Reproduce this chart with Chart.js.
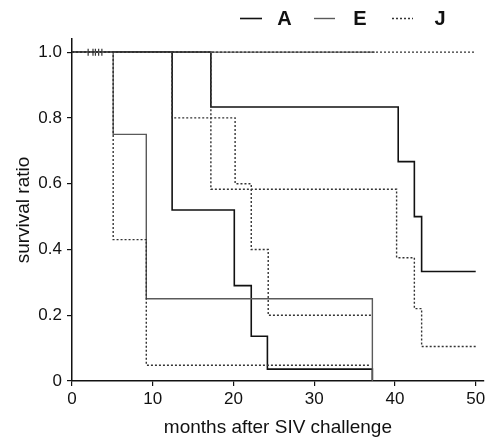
<!DOCTYPE html>
<html>
<head>
<meta charset="utf-8">
<script src="https://cdn.jsdelivr.net/npm/chart.js@4.4.1/dist/chart.umd.min.js"></script>
<style>
  html, body { margin: 0; padding: 0; background: #fff; }
  #wrap { width: 489px; height: 439px; }
</style>
</head>
<body>
<div id="wrap"><canvas id="survChart" width="489" height="439"></canvas></div>
<script>

// DATA (months after challenge, survival ratio)

const groupNames = ["A", "E", "J"];

const aMonths1 = [0, 17.2, 40.4, 42.4, 43.3, 50];
const aSurv1   = [1, 0.833, 0.667, 0.5, 0.333, 0.333];

const aMonths2 = [0, 12.4, 20.1, 22.2, 24.2, 37.2];
const aSurv2   = [1, 0.52, 0.29, 0.136, 0.036, 0];

const eMonths1 = [0, 5.1, 9.2, 37.2];
const eSurv1   = [1, 0.75, 0.25, 0];

const eMonths2 = [0, 37.5];
const eSurv2   = [1, 1];

const jMonths1 = [0, 17.2, 40.2, 42.4, 43.3, 50];
const jSurv1   = [1, 0.583, 0.375, 0.22, 0.105, 0.105];

const jMonths2 = [0, 12.4, 20.2, 22.2, 24.3, 37.1];
const jSurv2   = [1, 0.8, 0.6, 0.4, 0.2, 0.2];

const jMonths3 = [0, 5.1, 9.2, 37];
const jSurv3   = [1, 0.43, 0.048, 0.048];

const jMonths4 = [0, 50];
const jSurv4   = [1, 1];

const censorMonths = [2.0, 2.6, 2.9, 3.3, 3.7];
const censorSurv   = [1, 1, 1, 1, 1];

const xTicks = [0, 10, 20, 30, 40, 50];
const yTicks = [0, 0.2, 0.4, 0.6, 0.8, 1.0];

// STYLES

const styleA = { borderColor: "#111", borderWidth: 1.6, borderDash: [] };
const styleE = { borderColor: "#5a5a5a", borderWidth: 1.4, borderDash: [] };
const styleJ = { borderColor: "#333", borderWidth: 1.4, borderDash: [2, 2] };

function pts(xs, ys){
  return xs.map((x, i) => ({ x: x, y: ys[i] }));
}

function curve(name, xs, ys, style){
  return {
    label: name,
    data: pts(xs, ys),
    stepped: "before",
    fill: false,
    pointRadius: 0,
    borderColor: style.borderColor,
    borderWidth: style.borderWidth,
    borderDash: style.borderDash,
    borderCapStyle: "butt",
    borderJoinStyle: "miter"
  };
}

// LEGEND (drawn at top right)

const legendPlugin = {
  id: "topLegend",
  afterDraw(chart){
    const ctx = chart.ctx;
    const styles = [styleA, styleE, styleJ];
    const lineX = [[240, 262], [314, 335], [392, 413]];
    const textX = [284.5, 360, 440];
    const y = 18.5;
    ctx.save();
    groupNames.forEach((name, i) => {
      ctx.beginPath();
      ctx.strokeStyle = styles[i].borderColor;
      ctx.lineWidth = styles[i].borderWidth;
      ctx.setLineDash(styles[i].borderDash);
      ctx.moveTo(lineX[i][0], y);
      ctx.lineTo(lineX[i][1], y);
      ctx.stroke();
      ctx.setLineDash([]);
      ctx.fillStyle = "#111";
      ctx.font = "bold 20px 'Liberation Sans', Arial, sans-serif";
      ctx.textAlign = "center";
      ctx.textBaseline = "middle";
      ctx.fillText(name, textX[i], y + 1);
    });
    ctx.restore();
  }
};

const tickFont = { family: "'Liberation Sans', Arial, sans-serif", size: 17 };
const titleFont = { family: "'Liberation Sans', Arial, sans-serif", size: 19 };

new Chart(document.getElementById("survChart"), {
  type: "line",
  data: {
    datasets: [
      curve("J", jMonths4, jSurv4, styleJ),
      curve("J", jMonths1, jSurv1, styleJ),
      curve("J", jMonths2, jSurv2, styleJ),
      curve("J", jMonths3, jSurv3, styleJ),
      curve("E", eMonths2, eSurv2, styleE),
      curve("E", eMonths1, eSurv1, styleE),
      curve("A", aMonths2, aSurv2, styleA),
      curve("A", aMonths1, aSurv1, styleA),
      {
        label: "censored",
        type: "scatter",
        data: pts(censorMonths, censorSurv),
        pointStyle: "line",
        rotation: 90,
        pointRadius: 3.5,
        borderColor: "#333",
        borderWidth: 1.2
      }
    ]
  },
  options: {
    responsive: false,
    animation: false,
    layout: { padding: { top: 39, right: 0, left: 0, bottom: 0 } },
    plugins: {
      legend: { display: false },
      tooltip: { enabled: false }
    },
    scales: {
      x: {
        type: "linear",
        min: 0,
        max: 51,
        afterFit(scale){ scale.height = 58; },
        afterBuildTicks(scale){ scale.ticks = xTicks.map(v => ({ value: v })); },
        border: { display: true, color: "#111", width: 1.5 },
        grid: { drawOnChartArea: false, drawTicks: true, tickLength: 5, color: "#111", lineWidth: 1.2 },
        ticks: { color: "#111", font: tickFont, padding: 3, maxRotation: 0 },
        title: { display: true, text: "months after SIV challenge", color: "#111", font: titleFont, padding: { top: 0, bottom: 0 } }
      },
      y: {
        type: "linear",
        min: 0,
        max: 1.04,
        afterFit(scale){ scale.width = 72; },
        afterBuildTicks(scale){ scale.ticks = yTicks.map(v => ({ value: v })); },
        border: { display: true, color: "#111", width: 1.5 },
        grid: { drawOnChartArea: false, drawTicks: true, tickLength: 5, color: "#111", lineWidth: 1.2 },
        ticks: {
          color: "#111",
          font: tickFont,
          padding: 5,
          callback: v => v === 0 ? "0" : v.toFixed(1)
        },
        title: { display: true, text: "survival ratio", color: "#111", font: titleFont, padding: { top: 12, bottom: 0 } }
      }
    }
  },
  plugins: [legendPlugin]
});

</script>
</body>
</html>
